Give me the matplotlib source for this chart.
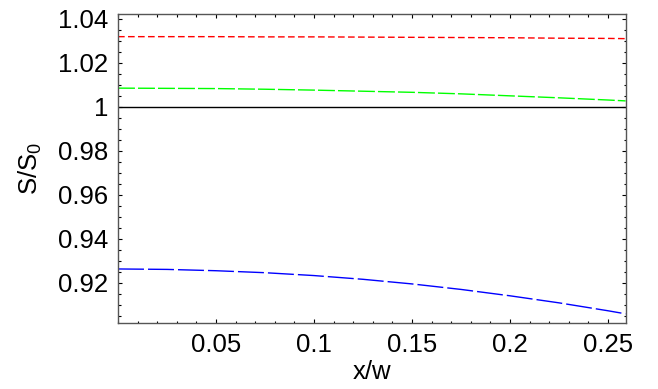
import matplotlib
matplotlib.use("Agg")
import matplotlib.pyplot as plt
from matplotlib.ticker import FixedLocator, MultipleLocator

plt.rcParams['font.family'] = ['Liberation Sans', 'DejaVu Sans']
plt.rcParams['lines.scale_dashes'] = False

x = [0, 0.025, 0.05, 0.075, 0.1, 0.125, 0.15, 0.175, 0.2, 0.225, 0.25, 0.259]
red = [1.0318, 1.0318, 1.0318, 1.0317, 1.0317, 1.0316, 1.0315, 1.0314, 1.0313, 1.0311, 1.0310, 1.0309]
green = [1.0084, 1.0083, 1.0082, 1.0079, 1.0075, 1.0070, 1.0065, 1.0058, 1.0049, 1.0040, 1.0030, 1.0026]
black = [1.0] * len(x)
blue = [0.9262, 0.9260, 0.9254, 0.9245, 0.9232, 0.9215, 0.9194, 0.9169, 0.9140, 0.9108, 0.9072, 0.9058]

xticks = [0.05, 0.1, 0.15, 0.2, 0.25]
xticklabels = ["0.05", "0.1", "0.15", "0.2", "0.25"]
yticks = [0.92, 0.94, 0.96, 0.98, 1.0, 1.02, 1.04]
yticklabels = ["0.92", "0.94", "0.96", "0.98", "1", "1.02", "1.04"]

fig = plt.figure(figsize=(6.58, 3.89), dpi=100)
ax = fig.add_axes([118/658, 1-323.3/389, (626-118)/658, (323.3-14)/389])

ax.plot(x, black, color='black', lw=1.0)
ax.plot(x, red, color='#ff0000', lw=1.0, dashes=(4.8, 2.4))
ax.plot(x, green, color='#00ff00', lw=1.0, dashes=(12.2, 2.2))
ax.plot(x, blue, color='#0000ff', lw=1.0, dashes=(18.7, 2.9))

ax.set_xlim(0, 0.2592)
ax.set_ylim(0.9015, 1.0421)

ax.xaxis.set_major_locator(FixedLocator(xticks))
ax.set_xticklabels(xticklabels)
ax.xaxis.set_minor_locator(MultipleLocator(0.01))
ax.yaxis.set_major_locator(FixedLocator(yticks))
ax.set_yticklabels(yticklabels)
ax.yaxis.set_minor_locator(MultipleLocator(0.005))

ax.tick_params(which='both', direction='in', top=True, right=True,
               labelsize=18.5, colors='black', width=0.8)
ax.tick_params(which='major', length=3.2, pad=7)
ax.tick_params(which='minor', length=1.8)
for s in ax.spines.values():
    s.set_color('#555555')
    s.set_linewidth(1.0)

ax.set_xlabel('x/w', fontsize=18.5, labelpad=2.5)
ax.set_ylabel(r'S/S$_{\mathregular{0}}$', fontsize=18.5, labelpad=10)

fig.savefig('out.png', dpi=100)
